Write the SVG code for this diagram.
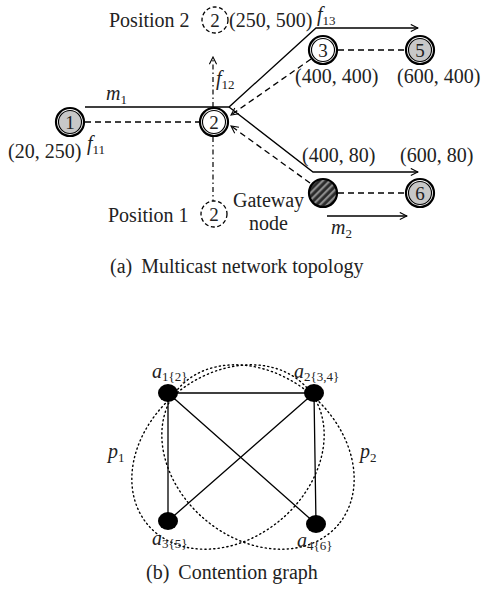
<svg xmlns="http://www.w3.org/2000/svg" width="482" height="596" viewBox="0 0 482 596">
<defs>
<marker id="arr" viewBox="0 0 10 10" refX="9" refY="5" markerWidth="9" markerHeight="9" markerUnits="userSpaceOnUse" orient="auto">
<path d="M1,1 L9,5 L1,9" fill="none" stroke="#000" stroke-width="1.2"/>
</marker>
<pattern id="hatch" patternUnits="userSpaceOnUse" width="5" height="5" patternTransform="rotate(45)">
<rect width="5" height="5" fill="#2a2a2a"/>
<rect width="2.2" height="5" fill="#8a8a8a"/>
</pattern>
</defs>
<style>
text{font-family:"Liberation Serif","Times New Roman",serif;fill:#222}
.lbl{font-size:20px}
.num{font-size:19px}
.it{font-style:italic;font-size:20px}
.sub{font-size:13px;font-style:normal}
.cap{font-size:20px}
.solid{fill:none;stroke:#000;stroke-width:1.3}
.dash{fill:none;stroke:#000;stroke-width:1.3;stroke-dasharray:6 4}
.dashdot{fill:none;stroke:#000;stroke-width:1.2;stroke-dasharray:5 3 1.5 3}
.ring{fill:none;stroke:#000;stroke-width:2.2}
.inner{stroke:#000;stroke-width:1.1}
.ghost{fill:#fff;stroke:#000;stroke-width:1.3;stroke-dasharray:4 2.5}
.dot{fill:none;stroke:#000;stroke-width:1.4;stroke-dasharray:1.2 3.2;stroke-linecap:round}
.gline{fill:none;stroke:#000;stroke-width:1.3}
</style>

<g id="connectors">
<path class="solid" d="M85,107 H229 L316,28 H418" marker-end="url(#arr)"/>
<path class="solid" d="M229,107 L313,172 H418" marker-end="url(#arr)"/>
<path class="solid" d="M327,216 H407" marker-end="url(#arr)"/>
<path class="dash" d="M85,122 H199"/>
<path class="dash" d="M311,59 L231,115" marker-end="url(#arr)"/>
<path class="dash" d="M310,183 L231,126" marker-end="url(#arr)"/>
<path class="dash" d="M338,50 H405"/>
<path class="dash" d="M338,193 H405"/>
<path class="dashdot" d="M213,107 V57" marker-end="url(#arr)"/>
<path class="dashdot" d="M213,137 V201"/>
</g>

<g id="edge-labels">
<text class="it" x="106" y="100">m<tspan class="sub" dy="4">1</tspan></text>
<text class="it" x="87" y="150">f<tspan class="sub" dy="4">11</tspan></text>
<text class="it" x="216" y="85">f<tspan class="sub" dy="4">12</tspan></text>
<text class="it" x="317" y="21">f<tspan class="sub" dy="4">13</tspan></text>
<text class="it" x="331" y="234">m<tspan class="sub" dy="4">2</tspan></text>
</g>

<g id="node1">
<circle cx="70" cy="122" r="11.5" fill="#c8c8c8" class="inner"/>
<circle class="ring" cx="70" cy="122" r="14"/>
<text class="num" x="70" y="129" text-anchor="middle">1</text>
<text class="lbl" x="8" y="158">(20, 250)</text>
</g>
<g id="node2">
<circle cx="214" cy="122" r="11.5" fill="#fff" class="inner"/>
<circle class="ring" cx="214" cy="122" r="14"/>
<text class="num" x="214" y="129" text-anchor="middle">2</text>
</g>
<g id="node2-pos2">
<circle class="ghost" cx="215" cy="20" r="13"/>
<text class="num" x="215" y="27" text-anchor="middle">2</text>
<text class="lbl" x="109" y="27">Position 2</text>
<text class="lbl" x="229" y="27">(250, 500)</text>
</g>
<g id="node2-pos1">
<circle class="ghost" cx="214" cy="214" r="13"/>
<text class="num" x="214" y="221" text-anchor="middle">2</text>
<text class="lbl" x="108" y="222">Position 1</text>
</g>
<g id="node3">
<circle cx="323" cy="50" r="11.5" fill="#fff" class="inner"/>
<circle class="ring" cx="323" cy="50" r="14"/>
<text class="num" x="323" y="57" text-anchor="middle">3</text>
<text class="lbl" x="295" y="83">(400, 400)</text>
</g>
<g id="node5">
<circle cx="420" cy="50" r="11.5" fill="#c8c8c8" class="inner"/>
<circle class="ring" cx="420" cy="50" r="14"/>
<text class="num" x="420" y="57" text-anchor="middle">5</text>
<text class="lbl" x="397" y="83">(600, 400)</text>
</g>
<g id="gateway">
<circle cx="323" cy="193" r="14" fill="url(#hatch)" stroke="#000" stroke-width="2.2"/>
<text class="lbl" x="233" y="207">Gateway</text>
<text class="lbl" x="249" y="230">node</text>
<text class="lbl" x="302" y="162">(400, 80)</text>
</g>
<g id="node6">
<circle cx="420" cy="193" r="11.5" fill="#c8c8c8" class="inner"/>
<circle class="ring" cx="420" cy="193" r="14"/>
<text class="num" x="420" y="200" text-anchor="middle">6</text>
<text class="lbl" x="400" y="162">(600, 80)</text>
</g>

<text class="cap" x="110" y="273">(a)<tspan dx="9">Multicast network topology</tspan></text>

<g id="contention-edges">
<path class="gline" d="M168,393 H314 M168,393 V521 M168,393 L316,524 M314,393 L168,521 M314,393 L316,524"/>
</g>
<g id="paths">
<ellipse class="dot" cx="228" cy="457" rx="105" ry="82" transform="rotate(-40 228 457)"/>
<ellipse class="dot" cx="258" cy="457" rx="105" ry="82" transform="rotate(40 258 457)"/>
<text class="it" x="108" y="458">p<tspan class="sub" dy="4">1</tspan></text>
<text class="it" x="360" y="458">p<tspan class="sub" dy="4">2</tspan></text>
</g>
<g id="a1">
<ellipse cx="168" cy="393" rx="10" ry="9" fill="#000"/>
<text class="it" x="152" y="378">a<tspan class="sub" dy="3">1{2}</tspan></text>
</g>
<g id="a2">
<ellipse cx="314" cy="393" rx="10" ry="9" fill="#000"/>
<text class="it" x="294" y="378">a<tspan class="sub" dy="3">2{3,4}</tspan></text>
</g>
<g id="a3">
<ellipse cx="168" cy="521" rx="10" ry="9" fill="#000"/>
<text class="it" x="152" y="545">a<tspan class="sub" dy="3">3{5}</tspan></text>
</g>
<g id="a4">
<ellipse cx="316" cy="524" rx="10" ry="9" fill="#000"/>
<text class="it" x="297" y="547">a<tspan class="sub" dy="3">4{6}</tspan></text>
</g>

<text class="cap" x="146" y="579">(b)<tspan dx="9">Contention graph</tspan></text>
</svg>
